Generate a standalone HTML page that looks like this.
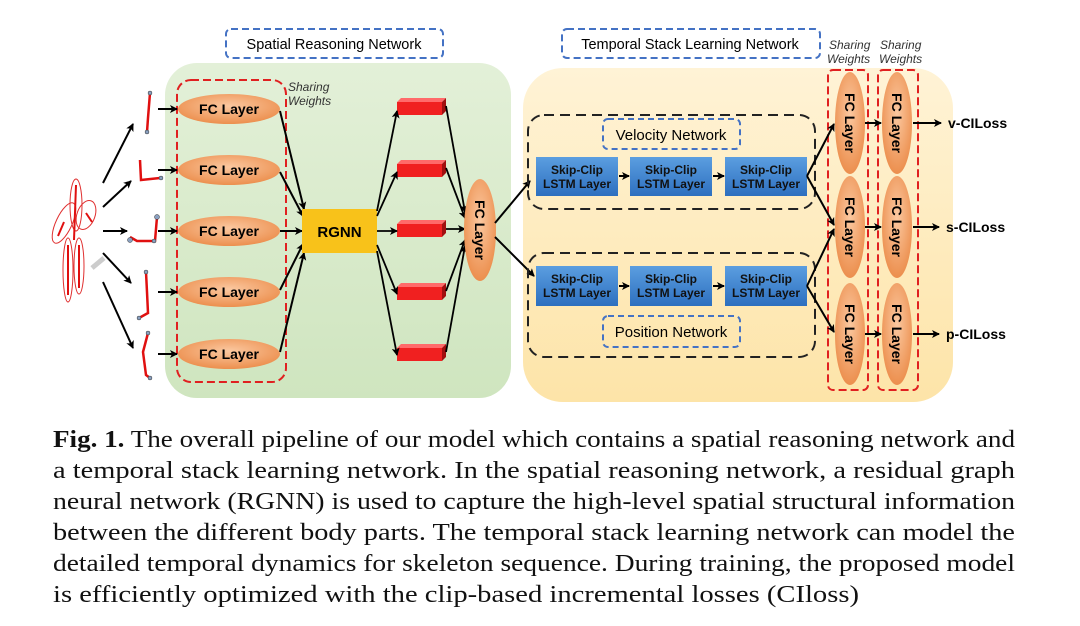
<!DOCTYPE html>
<html><head><meta charset="utf-8"><style>html,body{margin:0;padding:0;background:#fff}svg{display:block}</style></head>
<body>
<svg width="1080" height="626" viewBox="0 0 1080 626" xmlns="http://www.w3.org/2000/svg" font-family="Liberation Sans, sans-serif">
<defs>
<marker id="a" markerWidth="8" markerHeight="8" refX="7" refY="4" orient="auto" markerUnits="userSpaceOnUse"><path d="M0,0 L8,4 L0,8 L2,4 z" fill="#000"/></marker>
<radialGradient id="og" cx="50%" cy="40%" r="60%"><stop offset="0" stop-color="#fbc8a0"/><stop offset="1" stop-color="#ec8f4e"/></radialGradient>
<linearGradient id="bg" x1="0" y1="0" x2="0" y2="1"><stop offset="0" stop-color="#5b9ee0"/><stop offset="1" stop-color="#2d6fbf"/></linearGradient>
<linearGradient id="yg" x1="0" y1="0" x2="0" y2="1"><stop offset="0" stop-color="#fff3d6"/><stop offset="1" stop-color="#fde4a8"/></linearGradient>
<linearGradient id="gg" x1="0" y1="0" x2="0" y2="1"><stop offset="0" stop-color="#e3f0d8"/><stop offset="1" stop-color="#cfe5bf"/></linearGradient>
</defs>

<rect x="165" y="63" width="346" height="335" rx="32" fill="url(#gg)"/>
<rect x="523" y="68" width="430" height="334" rx="40" fill="url(#yg)"/>

<rect x="226" y="29" width="217" height="29" rx="5" fill="none" stroke="#4472c4" stroke-width="2" stroke-dasharray="7,4"/>
<text x="334" y="49" text-anchor="middle" font-size="14.5">Spatial Reasoning Network</text>
<rect x="562" y="29" width="258" height="29" rx="5" fill="none" stroke="#4472c4" stroke-width="2" stroke-dasharray="7,4"/>
<text x="690" y="49" text-anchor="middle" font-size="14.5">Temporal Stack Learning Network</text>

<rect x="177" y="80" width="109" height="302" rx="14" fill="none" stroke="#e02020" stroke-width="2" stroke-dasharray="8,4"/>
<rect x="828" y="70" width="40" height="320" rx="5" fill="none" stroke="#e02020" stroke-width="2" stroke-dasharray="8,4"/>
<rect x="878" y="70" width="40" height="320" rx="5" fill="none" stroke="#e02020" stroke-width="2" stroke-dasharray="8,4"/>
<g font-size="12" font-style="italic" fill="#333">
<text x="288" y="91">Sharing</text><text x="288" y="105">Weights</text>
<text x="829" y="49">Sharing</text><text x="827" y="63">Weights</text>
<text x="880" y="49">Sharing</text><text x="879" y="63">Weights</text>
</g>

<g fill="none" stroke="#e03030" stroke-width="1">
<ellipse cx="76" cy="205" rx="6" ry="26"/>
<ellipse cx="64" cy="223" rx="8" ry="22" transform="rotate(25 64 223)"/>
<ellipse cx="86" cy="215" rx="9" ry="15" transform="rotate(20 86 215)"/>
<ellipse cx="68" cy="270" rx="5" ry="32"/>
<ellipse cx="79" cy="266" rx="5" ry="28"/>
</g>
<g stroke="#e01010" stroke-width="2" fill="none">
<path d="M76 185 L74 240 M64 222 L58 236 M86 213 L92 222 M68 245 L68 295 M79 245 L79 288"/>
</g>
<path d="M92 268 L104 258" stroke="#ccc" stroke-width="5"/>

<g stroke="#000" stroke-width="2" marker-end="url(#a)">
<line x1="103" y1="183" x2="133" y2="124"/>
<line x1="103" y1="207" x2="131" y2="181"/>
<line x1="103" y1="231" x2="127" y2="231"/>
<line x1="103" y1="253" x2="131" y2="283"/>
<line x1="103" y1="282" x2="133" y2="348"/>
</g>

<g stroke="#e01010" stroke-width="2.5" fill="none">
<path d="M150 93 L148 118 L147 132"/>
<path d="M140 160 L141 180 L160 178"/>
<path d="M157 217 L155 241 L137 241 L130 237"/>
<path d="M146 272 L147 292 L148 313 L139 318"/>
<path d="M148 333 L143 352 L146 375 L150 378"/>
</g>
<g fill="#8aa0c0" stroke="#333" stroke-width="0.5">
<circle cx="150" cy="93" r="2"/><circle cx="147" cy="132" r="2"/>
<circle cx="161" cy="178" r="2"/><circle cx="157" cy="217" r="2.5"/><circle cx="130" cy="240" r="2.5"/><circle cx="154" cy="241" r="2"/>
<circle cx="146" cy="272" r="2"/><circle cx="139" cy="318" r="2"/><circle cx="148" cy="333" r="2"/><circle cx="150" cy="378" r="2"/>
</g>
<g stroke="#000" stroke-width="2" marker-end="url(#a)">
<line x1="158" y1="109" x2="177" y2="109"/>
<line x1="158" y1="170" x2="177" y2="170"/>
<line x1="158" y1="231" x2="177" y2="231"/>
<line x1="158" y1="292" x2="177" y2="292"/>
<line x1="158" y1="354" x2="177" y2="354"/>
</g>

<g font-size="14" font-weight="bold" text-anchor="middle">
<ellipse cx="229" cy="109" rx="51" ry="15" fill="url(#og)"/><text x="229" y="114">FC Layer</text>
<ellipse cx="229" cy="170" rx="51" ry="15" fill="url(#og)"/><text x="229" y="175">FC Layer</text>
<ellipse cx="229" cy="231" rx="51" ry="15" fill="url(#og)"/><text x="229" y="236">FC Layer</text>
<ellipse cx="229" cy="292" rx="51" ry="15" fill="url(#og)"/><text x="229" y="297">FC Layer</text>
<ellipse cx="229" cy="354" rx="51" ry="15" fill="url(#og)"/><text x="229" y="359">FC Layer</text>
</g>
<g stroke="#000" stroke-width="2" marker-end="url(#a)">
<line x1="280" y1="111" x2="304" y2="209"/>
<line x1="280" y1="172" x2="303" y2="216"/>
<line x1="280" y1="231" x2="302" y2="231"/>
<line x1="280" y1="290" x2="303" y2="244"/>
<line x1="280" y1="352" x2="304" y2="253"/>
</g>
<rect x="302" y="209" width="75" height="44" fill="#f8c21a"/>
<text x="339.5" y="237" text-anchor="middle" font-size="15" font-weight="bold">RGNN</text>

<g>
<g id="bar"><rect x="397" y="102" width="45" height="13" fill="#f02020"/><path d="M397 102 l4 -4 h45 l-4 4z" fill="#ff6a6a"/><path d="M442 102 l4 -4 v13 l-4 4z" fill="#a01010"/></g>
<use href="#bar" y="62"/><use href="#bar" y="122"/><use href="#bar" y="185"/><use href="#bar" y="246"/>
</g>
<g stroke="#000" stroke-width="1.8" marker-end="url(#a)">
<line x1="377" y1="211" x2="397" y2="111"/>
<line x1="377" y1="216" x2="397" y2="172"/>
<line x1="377" y1="231" x2="397" y2="231"/>
<line x1="377" y1="245" x2="397" y2="294"/>
<line x1="377" y1="251" x2="397" y2="355"/>
<line x1="446" y1="106" x2="465" y2="212"/>
<line x1="446" y1="168" x2="465" y2="218"/>
<line x1="446" y1="229" x2="465" y2="229"/>
<line x1="446" y1="291" x2="465" y2="240"/>
<line x1="446" y1="352" x2="465" y2="246"/>
</g>
<ellipse cx="480" cy="230" rx="16" ry="51" fill="url(#og)"/>
<text x="480" y="230" transform="rotate(90 480 230)" text-anchor="middle" dy="5" font-size="14" font-weight="bold">FC Layer</text>

<g stroke="#000" stroke-width="2" fill="none">
<path d="M495 223 L530 181" marker-end="url(#a)"/>
<path d="M495 237 L534 276" marker-end="url(#a)"/>
</g>

<rect x="528" y="115" width="287" height="94" rx="16" fill="none" stroke="#222" stroke-width="2" stroke-dasharray="10,6"/>
<rect x="528" y="253" width="287" height="104" rx="16" fill="none" stroke="#222" stroke-width="2" stroke-dasharray="10,6"/>
<rect x="603" y="119" width="137" height="30" rx="5" fill="none" stroke="#4472c4" stroke-width="2" stroke-dasharray="6,4"/>
<text x="671" y="140" text-anchor="middle" font-size="15">Velocity Network</text>
<rect x="603" y="316" width="137" height="31" rx="5" fill="none" stroke="#4472c4" stroke-width="2" stroke-dasharray="6,4"/>
<text x="671" y="337" text-anchor="middle" font-size="15">Position Network</text>

<g font-size="12" font-weight="bold" text-anchor="middle" fill="#111">
<rect x="536" y="157" width="82" height="39" fill="url(#bg)"/><text x="577" y="174">Skip-Clip</text><text x="577" y="188">LSTM Layer</text>
<rect x="630" y="157" width="82" height="39" fill="url(#bg)"/><text x="671" y="174">Skip-Clip</text><text x="671" y="188">LSTM Layer</text>
<rect x="725" y="157" width="82" height="39" fill="url(#bg)"/><text x="766" y="174">Skip-Clip</text><text x="766" y="188">LSTM Layer</text>
<rect x="536" y="266" width="82" height="40" fill="url(#bg)"/><text x="577" y="283">Skip-Clip</text><text x="577" y="297">LSTM Layer</text>
<rect x="630" y="266" width="82" height="40" fill="url(#bg)"/><text x="671" y="283">Skip-Clip</text><text x="671" y="297">LSTM Layer</text>
<rect x="725" y="266" width="82" height="40" fill="url(#bg)"/><text x="766" y="283">Skip-Clip</text><text x="766" y="297">LSTM Layer</text>
</g>
<g stroke="#000" stroke-width="2" marker-end="url(#a)">
<line x1="619" y1="176" x2="629" y2="176"/>
<line x1="713" y1="176" x2="724" y2="176"/>
<line x1="619" y1="286" x2="629" y2="286"/>
<line x1="713" y1="286" x2="724" y2="286"/>
<line x1="807" y1="176" x2="834" y2="124"/>
<line x1="807" y1="176" x2="834" y2="225"/>
<line x1="807" y1="286" x2="834" y2="229"/>
<line x1="807" y1="286" x2="834" y2="332"/>
<line x1="865" y1="123" x2="881" y2="123"/>
<line x1="865" y1="227" x2="881" y2="227"/>
<line x1="865" y1="334" x2="881" y2="334"/>
<line x1="913" y1="123" x2="941" y2="123"/>
<line x1="913" y1="227" x2="939" y2="227"/>
<line x1="913" y1="334" x2="939" y2="334"/>
</g>

<g font-size="14" font-weight="bold" text-anchor="middle">
<ellipse cx="850" cy="123" rx="15" ry="51" fill="url(#og)"/><text x="850" y="123" dy="5" transform="rotate(90 850 123)">FC Layer</text>
<ellipse cx="850" cy="227" rx="15" ry="51" fill="url(#og)"/><text x="850" y="227" dy="5" transform="rotate(90 850 227)">FC Layer</text>
<ellipse cx="850" cy="334" rx="15" ry="51" fill="url(#og)"/><text x="850" y="334" dy="5" transform="rotate(90 850 334)">FC Layer</text>
<ellipse cx="897" cy="123" rx="15" ry="51" fill="url(#og)"/><text x="897" y="123" dy="5" transform="rotate(90 897 123)">FC Layer</text>
<ellipse cx="897" cy="227" rx="15" ry="51" fill="url(#og)"/><text x="897" y="227" dy="5" transform="rotate(90 897 227)">FC Layer</text>
<ellipse cx="897" cy="334" rx="15" ry="51" fill="url(#og)"/><text x="897" y="334" dy="5" transform="rotate(90 897 334)">FC Layer</text>
</g>
<g font-size="14" font-weight="bold">
<text x="948" y="128">v-CILoss</text>
<text x="946" y="232">s-CILoss</text>
<text x="946" y="339">p-CILoss</text>
</g>

<g font-family="Liberation Serif, serif" font-size="24" fill="#111">
<text x="53" y="447" textLength="962" lengthAdjust="spacingAndGlyphs"><tspan font-weight="bold">Fig. 1.</tspan> The overall pipeline of our model which contains a spatial reasoning network and</text>
<text x="53" y="478" textLength="962" lengthAdjust="spacingAndGlyphs">a temporal stack learning network. In the spatial reasoning network, a residual graph</text>
<text x="53" y="509" textLength="962" lengthAdjust="spacingAndGlyphs">neural network (RGNN) is used to capture the high-level spatial structural information</text>
<text x="53" y="540" textLength="962" lengthAdjust="spacingAndGlyphs">between the different body parts. The temporal stack learning network can model the</text>
<text x="53" y="571" textLength="962" lengthAdjust="spacingAndGlyphs">detailed temporal dynamics for skeleton sequence. During training, the proposed model</text>
<text x="53" y="602" textLength="806" lengthAdjust="spacingAndGlyphs">is efficiently optimized with the clip-based incremental losses (CIloss)</text>
</g>
</svg>
</body></html>
